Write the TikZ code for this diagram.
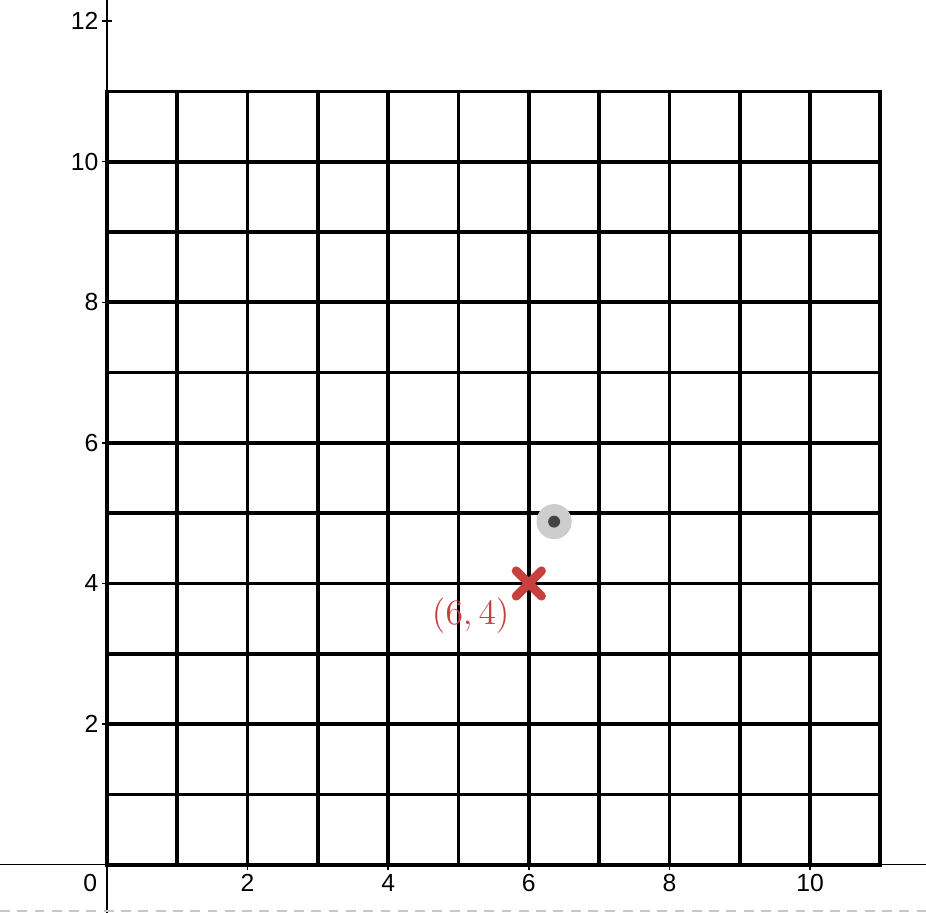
\documentclass[tikz,border=0pt]{standalone}
\usepackage{xcolor}
\usepackage{fontspec}
\usepackage{tikz}
\usetikzlibrary{positioning, calc}
\newfontfamily\axisfont{Liberation Sans}
\definecolor{crossred}{HTML}{C8403E}
\definecolor{pointgray}{HTML}{444444}
\definecolor{halogray}{HTML}{CDCDCD}
\definecolor{dashgray}{HTML}{C8C8C8}
\tikzstyle{axis} = [line width=0.6pt, color=black]
\tikzstyle{gridline} = [line width=1.5pt, color=black, line cap=rect]
\tikzstyle{ticklabel} = [font=\axisfont\fontsize{10}{12}\selectfont, text=black, inner sep=1pt]
\tikzstyle{crossarm} = [line width=3.6pt, color=crossred, line cap=round]

\begin{document}
\begin{tikzpicture}[x=1cm, y=1cm]
    \useasboundingbox (-1.522,-0.683) rectangle (11.65,12.30);
    % axes
    \draw[axis] (-1.522,0) -- (11.65,0);
    \draw[axis] (0,-0.683) -- (0,12.30);
    \draw[dashgray, line width=0.6pt, dash pattern=on 4pt off 3pt] (-1.522,-0.66) -- (11.65,-0.66);
    % grid
    \foreach \k in {0,...,11} {
        \draw[gridline] (\k,0) -- (\k,11);
        \draw[gridline] (0,\k) -- (11,\k);
    }
    % ticks and labels
    \foreach \k in {2,4,6,8,10} {
        \draw[axis] (\k,-0.07) -- (\k,0.07);
        \node[ticklabel, below] (xl\k) at (\k,-0.1) {\k};
    }
    \foreach \k in {2,4,...,12} {
        \draw[axis] (-0.07,\k) -- (0.07,\k);
        \node[ticklabel, left] (yl\k) at (-0.08,\k) {\k};
    }
    \node[ticklabel, below left] (origin) at (-0.1,-0.1) {0};
    % point
    \coordinate (pt) at (6.36,4.88);
    \fill[halogray] (pt) circle (0.25);
    \fill[pointgray] (pt) circle (0.085);
    % cross at (6,4)
    \coordinate (mark) at (6,4);
    \draw[crossarm] ($(mark)+(-0.18,-0.18)$) -- ($(mark)+(0.18,0.18)$);
    \draw[crossarm] ($(mark)+(-0.18,0.18)$) -- ($(mark)+(0.18,-0.18)$);
    \node[text=crossred, font=\fontsize{15}{18}\selectfont, below left=0.08cm and 0.15cm of mark] (marklabel) {$(6,4)$};
\end{tikzpicture}
\end{document}
